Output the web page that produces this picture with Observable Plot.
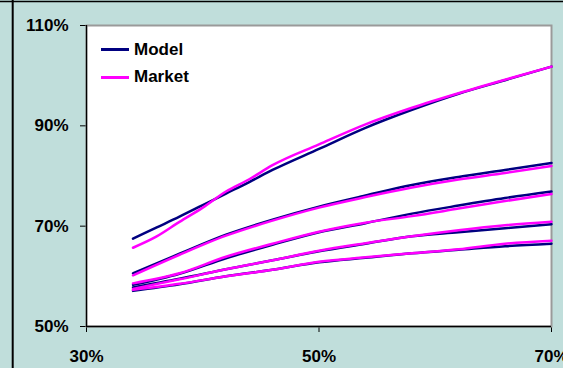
<!DOCTYPE html>
<html>
<head>
<meta charset="utf-8">
<script src="https://cdn.jsdelivr.net/npm/d3@7"></script>
<script src="https://cdn.jsdelivr.net/npm/@observablehq/plot@0.6"></script>
<style>
  html, body { margin: 0; padding: 0; background: #C0DEDB; overflow: hidden; }
  #chart { position: relative; width: 563px; height: 368px; }
  #chart svg { display: block; }
  .legend { position: absolute; left: 101px; top: 36px; font: bold 17px "Liberation Sans", Arial, sans-serif; color: #000; }
  .legend .row { display: flex; align-items: center; height: 27.4px; }
  .legend .sw { width: 28px; height: 3px; margin-right: 5px; }
</style>
</head>
<body>
<div id="chart"></div>
<script>
// Strike (moneyness) grid, in percent
const xTop = [34, 36, 38, 40, 42, 44, 46, 50, 54, 58, 62, 66, 70];
const xs = [34, 38, 42, 46, 50, 54, 58, 62, 66, 70];

// Curve 1 (highest)
const model1 = [67.5, 69.7, 71.9, 74.2, 76.5, 78.8, 81.2, 85.4, 89.6, 93.2, 96.4, 99.1, 101.8];
const market1 = [65.7, 67.9, 70.85, 73.7, 76.9, 79.35, 82.15, 86.3, 90.3, 93.6, 96.5, 99.2, 101.8];

// Curves 2–5
const model2 = [60.6, 64.5, 68.3, 71.3, 73.9, 76.1, 78.2, 79.8, 81.2, 82.6];
const market2 = [60.2, 64.3, 68.1, 71.1, 73.7, 75.8, 77.7, 79.3, 80.6, 82.0];
const model3 = [58.3, 60.5, 63.6, 66.3, 68.8, 70.6, 72.5, 74.1, 75.6, 76.9];
const market3 = [58.6, 60.6, 63.9, 66.5, 68.9, 70.7, 72.0, 73.5, 75.0, 76.4];
const model4 = [57.8, 59.5, 61.4, 63.2, 65.0, 66.5, 68.0, 68.8, 69.6, 70.4];
const market4 = [57.5, 59.4, 61.4, 63.2, 65.1, 66.6, 68.0, 69.2, 70.2, 70.9];
const model5 = [57.1, 58.4, 60.0, 61.3, 62.8, 63.7, 64.6, 65.3, 66.0, 66.5];
const market5 = [57.3, 58.5, 60.0, 61.3, 62.9, 63.8, 64.6, 65.4, 66.5, 67.1];

const xTicks = [30, 50, 70];
const yTicks = [50, 70, 90, 110];
const seriesNames = ["Model", "Market"];
const seriesColors = ["#000080", "#FF00FF"];

const curves = [
  [xTop, model1, market1],
  [xs, model2, market2],
  [xs, model3, market3],
  [xs, model4, market4],
  [xs, model5, market5]
];

const rows = [];
curves.forEach(([xv, mod, mkt], i) => {
  // Model first so Market sits on top
  mod.forEach((v, j) => rows.push({x: xv[j], y: v, series: "Model", key: "Model" + i}));
});
curves.forEach(([xv, mod, mkt], i) => {
  mkt.forEach((v, j) => rows.push({x: xv[j], y: v, series: "Market", key: "Market" + i}));
});

const pct = d => d + "%";

const plot = Plot.plot({
  width: 563,
  height: 368,
  marginLeft: 86,
  marginRight: 12,
  marginTop: 25,
  marginBottom: 42,
  style: {
    background: "#C0DEDB",
    fontFamily: "'Liberation Sans', Arial, sans-serif",
    fontSize: "17px",
    fontWeight: "bold",
    color: "#000",
    overflow: "hidden"
  },
  x: {domain: [30, 70], ticks: xTicks, tickFormat: pct, tickSize: 6, tickPadding: 17, label: null},
  y: {domain: [50, 110], ticks: yTicks, tickFormat: pct, tickSize: 6, tickPadding: 12, label: null},
  color: {domain: seriesNames, range: seriesColors},
  marks: [
    Plot.frame({fill: "white", stroke: "#9a9a9a", strokeWidth: 2}),
    Plot.ruleX([30], {stroke: "#000", strokeWidth: 1.3}),
    Plot.ruleY([50], {stroke: "#000", strokeWidth: 1.3}),
    Plot.line(rows, {x: "x", y: "y", z: "key", stroke: "series", strokeWidth: 2.5, curve: "monotone-x"})
  ]
});

const chart = document.getElementById("chart");
chart.appendChild(plot);

// Outer chart-area border: top edge and left edge
const svg = d3.select(plot);
svg.append("line").attr("x1", 0).attr("x2", 563).attr("y1", 1.5).attr("y2", 1.5)
  .attr("stroke", "#000").attr("stroke-width", 1.5);
svg.append("line").attr("x1", 12.7).attr("x2", 12.7).attr("y1", 0).attr("y2", 368)
  .attr("stroke", "#000").attr("stroke-width", 2);

// Legend
const legend = document.createElement("div");
legend.className = "legend";
seriesNames.forEach((name, i) => {
  const row = document.createElement("div");
  row.className = "row";
  const sw = document.createElement("span");
  sw.className = "sw";
  sw.style.background = seriesColors[i];
  const label = document.createElement("span");
  label.textContent = name;
  row.appendChild(sw);
  row.appendChild(label);
  legend.appendChild(row);
});
chart.appendChild(legend);
</script>
</body>
</html>
